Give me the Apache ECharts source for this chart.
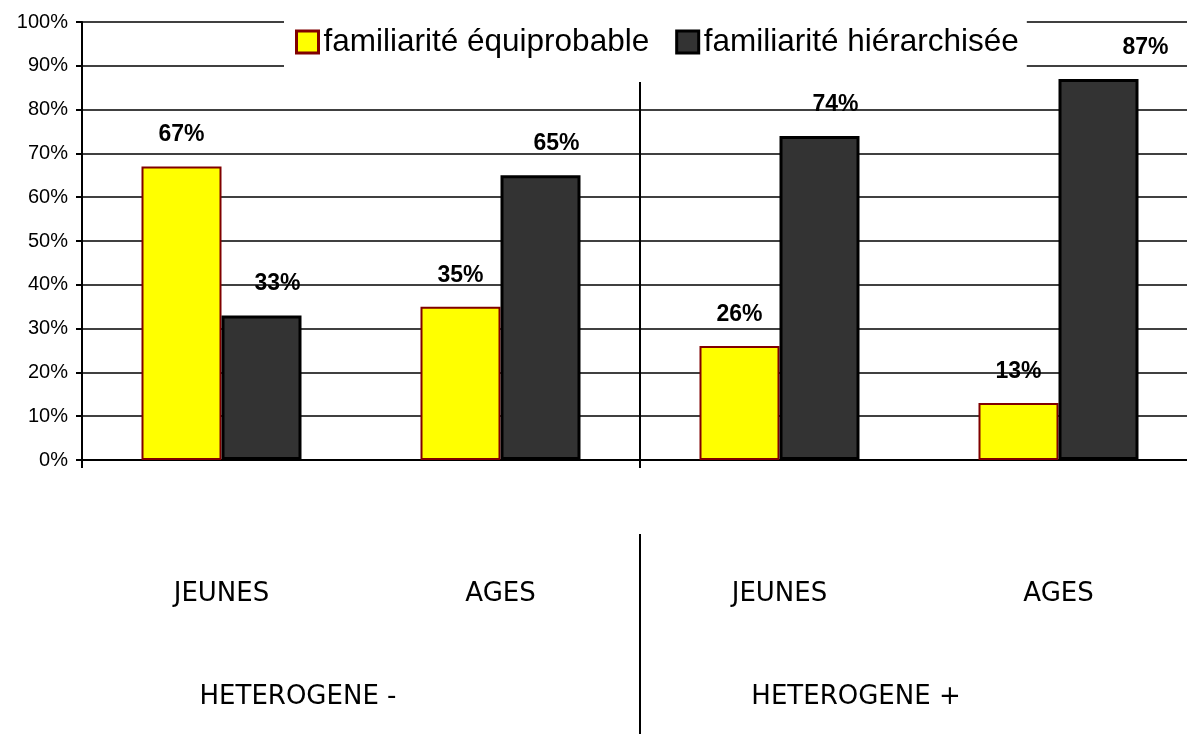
<!DOCTYPE html>
<html lang="fr" style="height: 100%">

<head>
  <meta charset="utf-8">
</head>

<body style="height: 100%; margin: 0">
  <div id="container" style="width: 1187px; height: 734px"></div>

  <script type="text/javascript" src="https://cdn.jsdelivr.net/npm/echarts@6/dist/echarts.min.js"></script>

  <script type="text/javascript">
    // categories (bas du graphique)
    var ageLabels = ['JEUNES', 'AGES', 'JEUNES', 'AGES'];
    var groupLabels = ['HETEROGENE -', 'HETEROGENE +'];
    var seriesNames = ['familiarité équiprobable', 'familiarité hiérarchisée'];
    // valeurs en %
    var equiprobable = [67, 35, 26, 13];
    var hierarchisee = [33, 65, 74, 87];
    var yTicks = [0, 10, 20, 30, 40, 50, 60, 70, 80, 90, 100];

    var dom = document.getElementById('container');
    var myChart = echarts.init(dom, null, { renderer: 'canvas' });

    var FONT = '"Liberation Sans", Arial, sans-serif';
    var LOW_FONT = '"DejaVu Sans", Verdana, sans-serif';
    var labelStyle = {
      show: true,
      position: 'top',
      distance: 20,
      fontFamily: FONT,
      fontSize: 23,
      fontWeight: 'bold',
      color: '#000',
      formatter: '{c}%'
    };

    var option = {
      animation: false,
      backgroundColor: '#fff',
      grid: { left: 82, top: 22, width: 1116, height: 438, containLabel: false, outerBoundsMode: 'none' },
      legend: {
        left: 284,
        top: 14,
        padding: [12, 8, 24, 11],
        backgroundColor: '#fff',
        itemGap: 26,
        itemWidth: 22,
        itemHeight: 22,
        icon: 'rect',
        textStyle: { fontFamily: FONT, fontSize: 31.5, color: '#000' },
        data: [
          { name: seriesNames[0], itemStyle: { borderWidth: 3 } },
          { name: seriesNames[1], itemStyle: { borderWidth: 3 } }
        ]
      },
      xAxis: [
        {
          type: 'category',
          data: ageLabels,
          axisLine: { lineStyle: { color: '#000', width: 2 } },
          axisTick: { show: true, interval: 1, length: 8, lineStyle: { color: '#000', width: 2 } },
          splitLine: { show: true, interval: 1, lineStyle: { color: '#000', width: 2 } },
          axisLabel: {
            margin: 121,
            fontFamily: LOW_FONT,
            fontSize: 26,
            color: '#000'
          }
        },
        {
          type: 'category',
          data: groupLabels,
          position: 'bottom',
          offset: 74,
          axisLine: { show: false },
          axisTick: { show: false },
          axisLabel: {
            margin: 150,
            padding: [0, 126, 0, 0],
            fontFamily: LOW_FONT,
            fontSize: 26,
            color: '#000'
          }
        }
      ],
      yAxis: {
        type: 'value',
        min: yTicks[0],
        max: yTicks[yTicks.length - 1],
        interval: 10,
        axisLine: { show: true, lineStyle: { color: '#000', width: 2 } },
        axisTick: { show: true, length: 6, lineStyle: { color: '#000', width: 2 } },
        axisLabel: {
          margin: 14,
          fontFamily: FONT,
          fontSize: 20,
          color: '#000',
          formatter: '{value}%'
        },
        splitLine: { lineStyle: { color: '#000', width: 1.5 } }
      },
      series: [
        {
          name: seriesNames[0],
          type: 'bar',
          barWidth: 80,
          barGap: '0%',
          data: equiprobable,
          itemStyle: { color: '#ffff00', borderColor: '#800000', borderWidth: 2 },
          label: labelStyle
        },
        {
          name: seriesNames[1],
          type: 'bar',
          barWidth: 80,
          barGap: '0%',
          data: hierarchisee.map(function (v, i) {
            // le dernier label est décalé vers la droite dans l'original
            if (i === hierarchisee.length - 1) {
              return { value: v, label: { offset: [47, 0] } };
            }
            return v;
          }),
          itemStyle: { color: '#333333', borderColor: '#000', borderWidth: 3 },
          label: Object.assign({}, labelStyle, { offset: [16, 0] })
        }
      ]
    };

    myChart.setOption(option);

    // séparateur vertical sous l'axe, entre les deux groupes HETEROGENE
    var half = ageLabels.length / 2;
    var xSep = (myChart.convertToPixel({ xAxisIndex: 0 }, half - 1) +
                myChart.convertToPixel({ xAxisIndex: 0 }, half)) / 2;
    var yBase = myChart.convertToPixel({ yAxisIndex: 0 }, 0);
    myChart.setOption({
      graphic: [{
        type: 'line',
        shape: { x1: xSep, y1: yBase + 74, x2: xSep, y2: yBase + 274 },
        style: { stroke: '#000', lineWidth: 2 }
      }]
    });

    window.addEventListener('resize', myChart.resize);
  </script>
</body>

</html>
